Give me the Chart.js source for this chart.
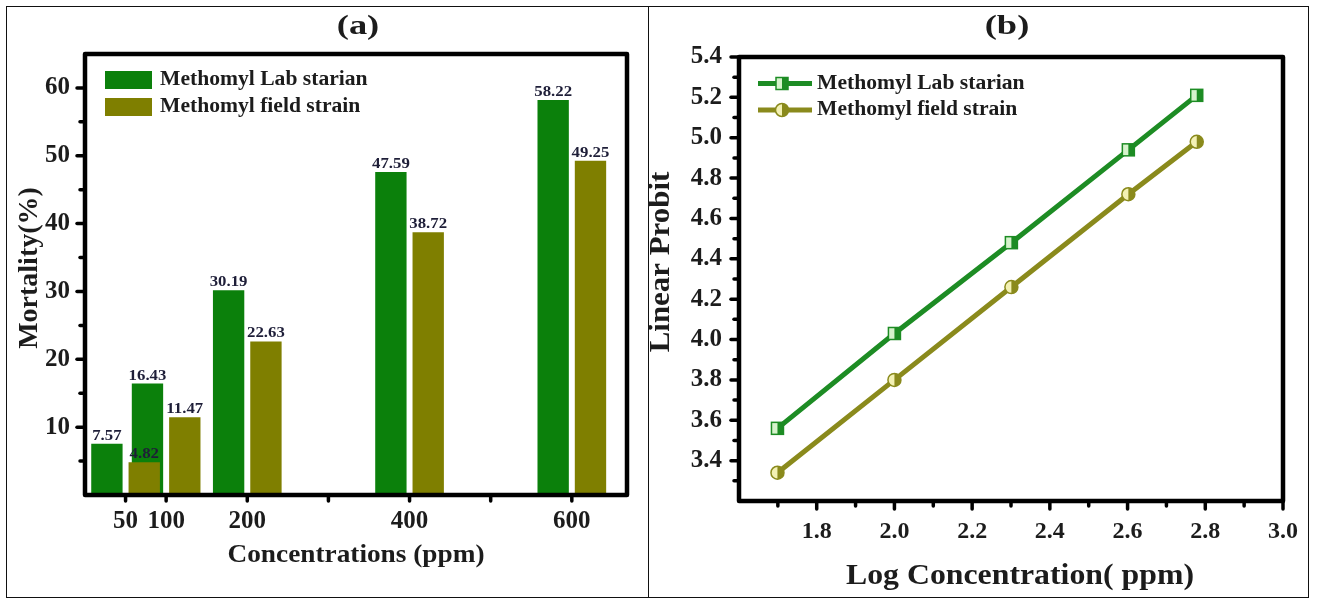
<!DOCTYPE html>
<html><head><meta charset="utf-8">
<script src="https://cdn.jsdelivr.net/npm/chart.js@4.4.1/dist/chart.umd.min.js"></script>
<style>
html,body{margin:0;padding:0;background:#fff;width:1317px;height:603px;overflow:hidden;}
body{position:relative;}
.frame{position:absolute;border:1.5px solid #111;box-sizing:border-box;}
canvas{position:absolute;top:0;}
</style></head><body>
<div class="frame" style="left:6px;top:6px;width:643px;height:592px;"></div>
<div class="frame" style="left:640px;top:6px;width:669px;height:592px;border-left:none;"></div>
<canvas id="ca" width="650" height="603" style="left:0px"></canvas>
<canvas id="cb" width="672" height="603" style="left:645px"></canvas>
<script>
// ---------- data ----------
const concentrations = [50, 100, 200, 400, 600];
const labMortality   = [7.57, 16.43, 30.19, 47.59, 58.22];
const fieldMortality = [4.82, 11.47, 22.63, 38.72, 49.25];
const barXTicks      = [50, 100, 200, 300, 400, 500, 600];
const barXTickLabels = ['50', '100', '200', '', '400', '', '600'];
const mortalityTicks = [10, 20, 30, 40, 50, 60];
const mortalityMinor = [5, 15, 25, 35, 45, 55];

const logConcentration = [1.699, 2.0, 2.301, 2.602, 2.778];
const labProbit        = [3.56, 4.03, 4.48, 4.94, 5.21];
const fieldProbit      = [3.34, 3.80, 4.26, 4.72, 4.98];
const probitTicks      = [3.4, 3.6, 3.8, 4.0, 4.2, 4.4, 4.6, 4.8, 5.0, 5.2, 5.4];
const probitMinor      = [3.3, 3.5, 3.7, 3.9, 4.1, 4.3, 4.5, 4.7, 4.9, 5.1, 5.3];
const logTicks         = [1.8, 2.0, 2.2, 2.4, 2.6, 2.8, 3.0];
const logMinor         = [1.7, 1.9, 2.1, 2.3, 2.5, 2.7, 2.9];

const seriesNames = ['Methomyl Lab starian', 'Methomyl field strain'];
const panelTitles = ['(a)', '(b)'];
const axisTitles  = ['Concentrations (ppm)', 'Mortality(%)', 'Log Concentration( ppm)', 'Linear Probit'];

// ---------- style ----------
const SERIF = '"Liberation Serif", "Times New Roman", serif';
const GREEN = '#0b800b', OLIVE = '#7f7f00';
const LGREEN = '#1d8c24', LOLIVE = '#8a8a1c';
const GREEN_LIGHT = '#d6f3cc', OLIVE_LIGHT = '#f3f1b4';
const TXT = '#1c1c1c';

function txt(ctx, s, x, y, size, sx, align, base, color, rot) {
  ctx.save();
  ctx.translate(x, y);
  if (rot) ctx.rotate(rot);
  ctx.scale(sx, 1);
  ctx.font = 'bold ' + size + 'px ' + SERIF;
  ctx.textAlign = align; ctx.textBaseline = base; ctx.fillStyle = color;
  ctx.fillText(s, 0, 0);
  ctx.restore();
}
function frameAndTicks(ctx, ca, xs, ys, xMaj, xMin, yMaj, yMin, xLen) {
  ctx.save();
  ctx.strokeStyle = '#000'; ctx.lineWidth = 3.5; ctx.lineCap = 'round';
  const tick = (x1, y1, x2, y2) => { ctx.beginPath(); ctx.moveTo(x1, y1); ctx.lineTo(x2, y2); ctx.stroke(); };
  yMaj.forEach(v => { const p = ys.getPixelForValue(v); tick(ca.left - 8, p, ca.left, p); });
  yMin.forEach(v => { const p = ys.getPixelForValue(v); tick(ca.left - 5, p, ca.left, p); });
  xMaj.forEach(v => { const p = xs.getPixelForValue(v); tick(p, ca.bottom, p, ca.bottom + xLen); });
  xMin.forEach(v => { const p = xs.getPixelForValue(v); tick(p, ca.bottom, p, ca.bottom + 5); });
  ctx.lineWidth = 4.5; ctx.lineJoin = 'round';
  ctx.strokeRect(ca.left, ca.top, ca.right - ca.left, ca.bottom - ca.top);
  ctx.restore();
}
function halfSquare(ctx, x, y, s, light, dark) {
  ctx.save();
  ctx.fillStyle = light; ctx.fillRect(x - s / 2, y - s / 2, s, s);
  ctx.fillStyle = dark; ctx.fillRect(x, y - s / 2, s / 2, s);
  ctx.strokeStyle = dark; ctx.lineWidth = 1.5; ctx.strokeRect(x - s / 2, y - s / 2, s, s);
  ctx.restore();
}
function halfCircle(ctx, x, y, r, light, dark) {
  ctx.save();
  ctx.beginPath(); ctx.arc(x, y, r, 0, Math.PI * 2); ctx.fillStyle = light; ctx.fill();
  ctx.beginPath(); ctx.arc(x, y, r, -Math.PI / 2, Math.PI / 2); ctx.closePath(); ctx.fillStyle = dark; ctx.fill();
  ctx.beginPath(); ctx.arc(x, y, r, 0, Math.PI * 2); ctx.strokeStyle = dark; ctx.lineWidth = 1.5; ctx.stroke();
  ctx.restore();
}

// ---------- chart (a) ----------
const barPlugin = {
  id: 'barDecor',
  beforeDatasetsDraw(chart) {
    // draw lab series first so that field bars overlap it
    [0, 1].forEach(i => chart.getDatasetMeta(i).controller.draw());
    return false;
  },
  afterDraw(chart) {
    const ctx = chart.ctx, ca = chart.chartArea, xs = chart.scales.x, ys = chart.scales.y;
    frameAndTicks(ctx, ca, xs, ys, barXTicks, [], mortalityTicks, mortalityMinor, 6);
    // value labels
    [0, 1].forEach(i => {
      const meta = chart.getDatasetMeta(i);
      const vals = i === 0 ? labMortality : fieldMortality;
      meta.data.forEach((bar, j) => {
        txt(ctx, vals[j].toFixed(2), bar.x, bar.y - 4, 14, 1.2, 'center', 'alphabetic', '#1e1e38');
      });
    });
    // title
    txt(ctx, panelTitles[0], 358, 27, 27, 1.35, 'center', 'middle', TXT);
    // axis titles
    txt(ctx, axisTitles[0], (ca.left + ca.right) / 2, 555, 26, 1.05, 'center', 'middle', TXT);
    txt(ctx, axisTitles[1], 30, 268, 28, 1.0, 'center', 'middle', TXT, -Math.PI / 2);
    // legend
    ctx.fillStyle = GREEN; ctx.fillRect(105, 71, 47, 18);
    ctx.fillStyle = OLIVE; ctx.fillRect(105, 98, 47, 18);
    txt(ctx, seriesNames[0], 160, 80, 20, 1.08, 'left', 'middle', TXT);
    txt(ctx, seriesNames[1], 160, 107, 20, 1.08, 'left', 'middle', TXT);
  }
};

new Chart(document.getElementById('ca'), {
  type: 'bar',
  data: {
    datasets: [
      { label: seriesNames[0], data: concentrations.map((x, i) => ({ x, y: labMortality[i] })),
        backgroundColor: GREEN, categoryPercentage: 1.84, barPercentage: 0.84 },
      { label: seriesNames[1], data: concentrations.map((x, i) => ({ x, y: fieldMortality[i] })),
        backgroundColor: OLIVE, categoryPercentage: 1.84, barPercentage: 0.84 }
    ]
  },
  options: {
    responsive: false, animation: false, devicePixelRatio: 1,
    layout: { padding: { left: 0, top: 54, right: 23, bottom: 0 } },
    plugins: { legend: { display: false }, tooltip: { enabled: false } },
    scales: {
      x: {
        type: 'linear', min: 0, max: 668, offset: false,
        grid: { display: false, drawTicks: false }, border: { display: false },
        afterBuildTicks: s => { s.ticks = barXTicks.map(v => ({ value: v })); },
        afterFit: s => { s.height = 108; },
        ticks: { autoSkip: false, maxRotation: 0, padding: 12, color: TXT,
          font: { family: SERIF, size: 25, weight: 'bold' },
          callback: v => barXTickLabels[barXTicks.indexOf(v)] }
      },
      y: {
        min: 0, max: 65,
        grid: { display: false, drawTicks: false }, border: { display: false },
        afterBuildTicks: s => { s.ticks = mortalityTicks.map(v => ({ value: v })); },
        afterFit: s => { s.width = 85; },
        ticks: { padding: 15, color: TXT, font: { family: SERIF, size: 25, weight: 'bold' } }
      }
    }
  },
  plugins: [barPlugin]
});

// ---------- chart (b) ----------
const linePlugin = {
  id: 'lineDecor',
  afterDraw(chart) {
    const ctx = chart.ctx, ca = chart.chartArea, xs = chart.scales.x, ys = chart.scales.y;
    frameAndTicks(ctx, ca, xs, ys, logTicks, logMinor, probitTicks, probitMinor, 8);
    chart.getDatasetMeta(0).data.forEach(p => halfSquare(ctx, p.x, p.y, 12, GREEN_LIGHT, LGREEN));
    chart.getDatasetMeta(1).data.forEach(p => halfCircle(ctx, p.x, p.y, 6.5, OLIVE_LIGHT, LOLIVE));
    const off = 645;
    txt(ctx, panelTitles[1], 1007 - off, 27, 27, 1.35, 'center', 'middle', TXT);
    txt(ctx, axisTitles[2], 1020 - off, 576, 30, 1.06, 'center', 'middle', TXT);
    txt(ctx, axisTitles[3], 661 - off, 262, 30, 1.03, 'center', 'middle', TXT, -Math.PI / 2);
    // legend
    const rows = [[83.5, LGREEN, GREEN_LIGHT, 0], [110, LOLIVE, OLIVE_LIGHT, 1]];
    rows.forEach(([y, dark, light, k]) => {
      ctx.save(); ctx.strokeStyle = dark; ctx.lineWidth = 5;
      ctx.beginPath(); ctx.moveTo(758 - off, y); ctx.lineTo(812 - off, y); ctx.stroke(); ctx.restore();
      if (k === 0) halfSquare(ctx, 782 - off, y, 12, light, dark); else halfCircle(ctx, 782 - off, y, 6.5, light, dark);
      txt(ctx, seriesNames[k], 817 - off, y, 20, 1.08, 'left', 'middle', TXT);
    });
  }
};

new Chart(document.getElementById('cb'), {
  type: 'line',
  data: {
    datasets: [
      { label: seriesNames[0], data: logConcentration.map((x, i) => ({ x, y: labProbit[i] })),
        borderColor: LGREEN, borderWidth: 5, pointRadius: 0, tension: 0 },
      { label: seriesNames[1], data: logConcentration.map((x, i) => ({ x, y: fieldProbit[i] })),
        borderColor: LOLIVE, borderWidth: 5, pointRadius: 0, tension: 0 }
    ]
  },
  options: {
    responsive: false, animation: false, devicePixelRatio: 1,
    layout: { padding: { left: 0, top: 57, right: 34, bottom: 0 } },
    plugins: { legend: { display: false }, tooltip: { enabled: false } },
    scales: {
      x: {
        type: 'linear', min: 1.6, max: 3.0,
        grid: { display: false, drawTicks: false }, border: { display: false },
        afterBuildTicks: s => { s.ticks = logTicks.map(v => ({ value: v })); },
        afterFit: s => { s.height = 102; },
        ticks: { autoSkip: false, maxRotation: 0, padding: 16, color: TXT,
          font: { family: SERIF, size: 24, weight: 'bold' }, callback: v => v.toFixed(1) }
      },
      y: {
        type: 'linear', min: 3.2, max: 5.4,
        grid: { display: false, drawTicks: false }, border: { display: false },
        afterBuildTicks: s => { s.ticks = probitTicks.map(v => ({ value: v })); },
        afterFit: s => { s.width = 94; },
        ticks: { padding: 17, color: TXT, font: { family: SERIF, size: 25, weight: 'bold' },
          callback: v => v.toFixed(1) }
      }
    }
  },
  plugins: [linePlugin]
});
</script>
</body></html>
